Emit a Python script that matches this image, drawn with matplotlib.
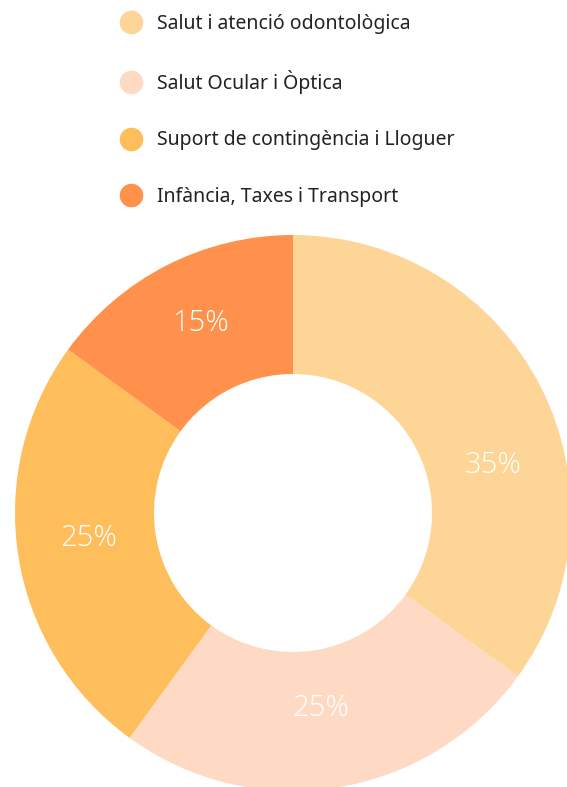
import matplotlib
matplotlib.use("Agg")
import matplotlib.pyplot as plt
from matplotlib.lines import Line2D
import numpy as np

categories = ["Salut i atenció odontològica", "Salut Ocular i Òptica",
              "Suport de contingència i Lloguer", "Infància, Taxes i Transport"]
values = [35, 25, 25, 15]
colors = ["#FDD597", "#FEDAC5", "#FEBE5C", "#FF914D"]

W, H = 567, 787
fig = plt.figure(figsize=(W/100, H/100), dpi=100)
cx, cy, R = 293, 274, 278
ax = fig.add_axes([(cx-R)/W, (cy-R)/H, 2*R/W, 2*R/H])
wedges, texts, autotexts = ax.pie(values, colors=colors, startangle=90, counterclock=False,
                                  radius=1, wedgeprops=dict(width=0.5, linewidth=0),
                                  autopct=lambda p: f"{p:.0f}%", pctdistance=0.73,
                                  textprops=dict(color="white", fontsize=21,
                                                 family="Open Sans", fontweight="light"))
for w in wedges:
    w.set_clip_on(False)
ax.set_xlim(-1, 1)
ax.set_ylim(-1, 1)
ax.set_aspect("equal")
ax.axis("off")
# adjust label placement to match reference
for t, (a, r) in zip(autotexts, [(13.5, 0.74), (-82, 0.71), (187, 0.74), (116, 0.76)]):
    ang = np.deg2rad(a)
    t.set_position((r*np.cos(ang), r*np.sin(ang)))

handles = [Line2D([0], [0], marker="o", linestyle="", markersize=17,
                  markerfacecolor=c, markeredgewidth=0) for c in colors]
leg = fig.legend(handles, categories, loc="upper left",
                 bbox_to_anchor=(112/W, 1 - 6/H), frameon=False,
                 prop=dict(family="Noto Sans", size=14),
                 labelspacing=1.87, handletextpad=0.73, handlelength=1.2,
                 borderaxespad=0)
for t in leg.get_texts():
    t.set_color("#222222")
fig.savefig("out.png", dpi=100)
